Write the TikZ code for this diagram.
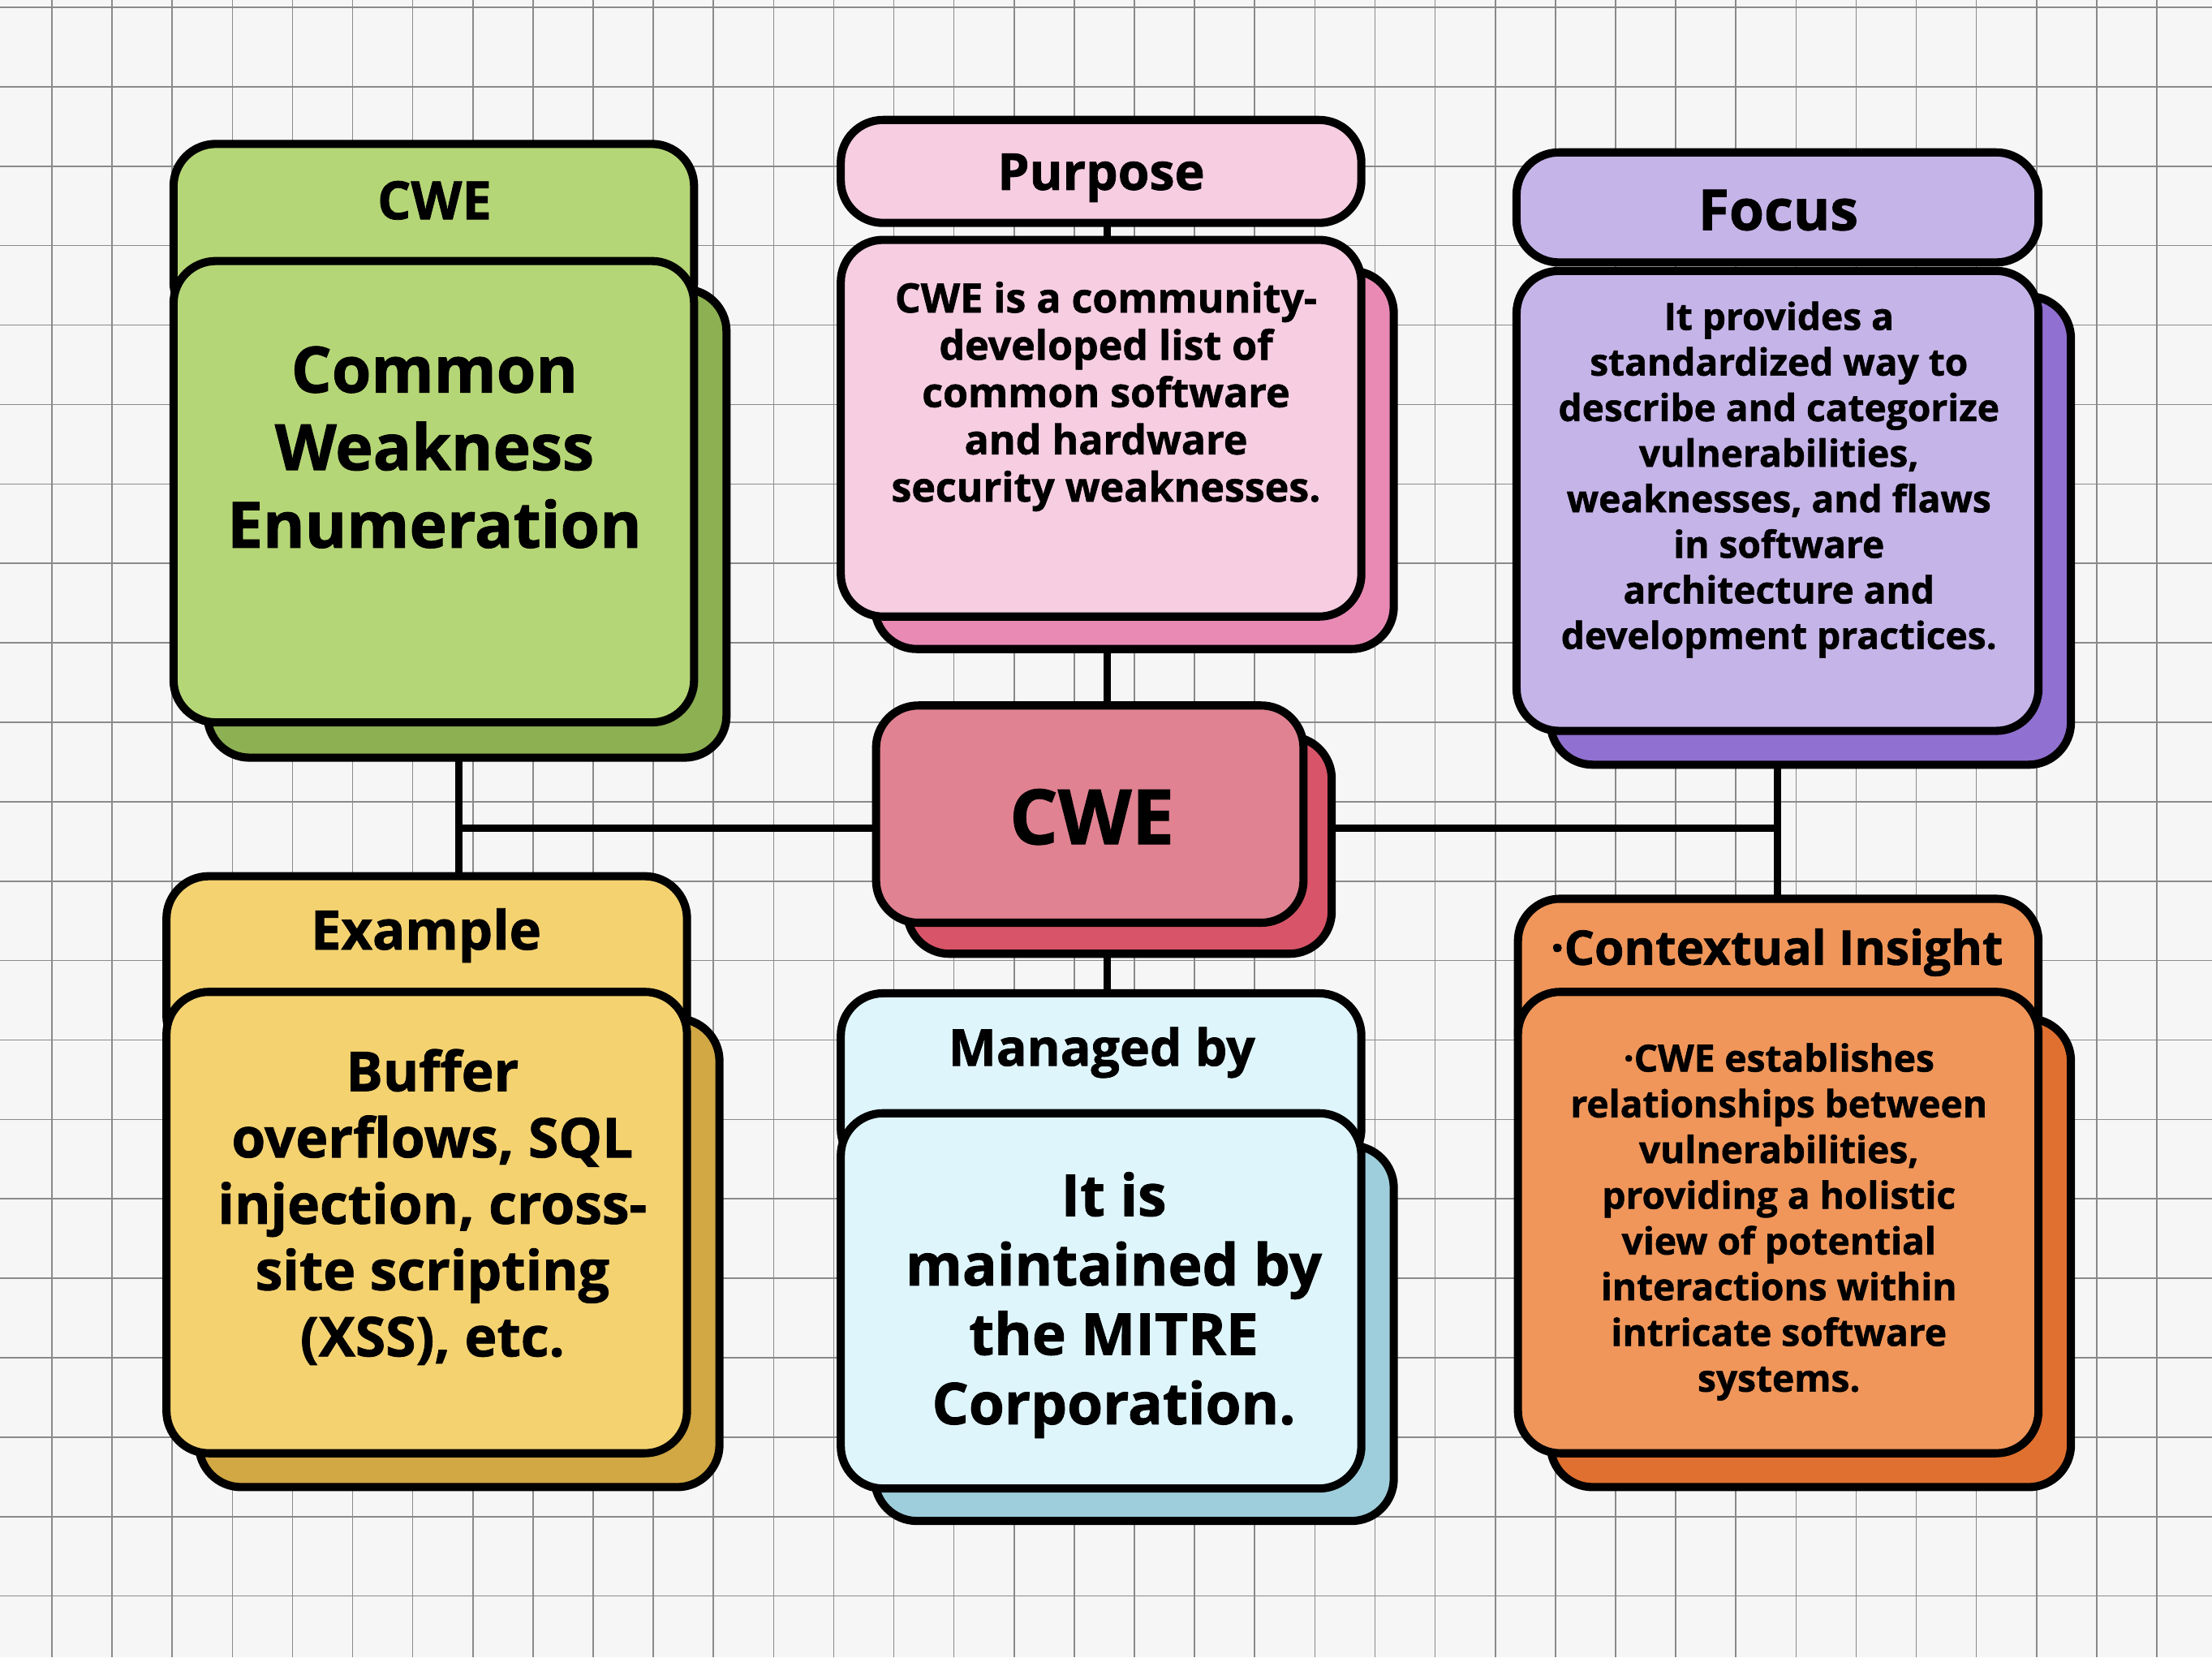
\documentclass[tikz,border=0pt]{standalone}
\usepackage{fontspec}
\setmainfont{Open Sans}[BoldFeatures={FakeBold=1.2}]
\pgfdeclarelayer{gridlayer}
\pgfdeclarelayer{connlayer}
\pgfsetlayers{gridlayer,connlayer,main}
\definecolor{bgpaper}{HTML}{F6F6F6}
\definecolor{gridc}{HTML}{8A8A8A}
\definecolor{gFill}{HTML}{B5D676}
\definecolor{gShade}{HTML}{8DB052}
\definecolor{pFill}{HTML}{F6CDE1}
\definecolor{pShade}{HTML}{E88AB4}
\definecolor{fFill}{HTML}{C5B4E8}
\definecolor{fShade}{HTML}{9070D0}
\definecolor{cFill}{HTML}{E08291}
\definecolor{cShade}{HTML}{D85468}
\definecolor{eFill}{HTML}{F4D270}
\definecolor{eShade}{HTML}{D2A844}
\definecolor{mFill}{HTML}{DEF5FC}
\definecolor{mShade}{HTML}{9ECEDC}
\definecolor{oFill}{HTML}{F0965A}
\definecolor{oShade}{HTML}{E07030}
\tikzset{
  card/.style={draw=black, line width=2.9pt, rounded corners=15pt, rectangle, inner sep=0pt},
  conn/.style={draw=black, line width=2.6pt},
  gridline/.style={draw=gridc, line width=0.45pt},
  txt/.style={align=center, inner sep=0pt, text=black, font=\bfseries}
}
\begin{document}
\begin{tikzpicture}[x=0.5pt, y=-0.5pt]
\useasboundingbox (0,0) rectangle (1568,1174.6);
\begin{pgfonlayer}{gridlayer}
  \fill[bgpaper] (0,0) rectangle (1568,1174.6);
  \foreach \i in {0,...,36} { \draw[gridline] ({36.8+42.63*\i},0) -- ({36.8+42.63*\i},1174.6); }
  \foreach \j in {-1,0,...,19} { \draw[gridline] (0,{61.5+56.3*\j}) -- (1568,{61.5+56.3*\j}); }
\end{pgfonlayer}

% Green
\node[card, fill=gFill, minimum width=184.5pt, minimum height=64pt] (gH) at (307.5,166) {};
\node[card, fill=gShade, minimum width=184pt, minimum height=166pt] (gS) at (331,371) {};
\node[card, fill=gFill, minimum width=184.5pt, minimum height=163.5pt] (gM) at (307.5,348.5) {};
\node[txt, font=\fontsize{18.7pt}{22pt}\selectfont\bfseries] (gHt) at (308,142) {CWE};
\node[txt, font=\fontsize{22.6pt}{27.5pt}\selectfont\bfseries] (gMt) at (308,317) {Common\\Weakness\\Enumeration};

% Purpose
\node[card, fill=pFill, minimum width=184.5pt, minimum height=36.5pt] (pH) at (780.5,121.5) {};
\node[card, fill=pShade, minimum width=184pt, minimum height=134pt] (pS) at (804,326) {};
\node[card, fill=pFill, minimum width=184.5pt, minimum height=133.5pt] (pM) at (780.5,303.5) {};
\node[txt, font=\fontsize{18pt}{20pt}\selectfont\bfseries] (pHt) at (780.5,126) {Purpose};
\node[txt, font=\fontsize{14.4pt}{16.75pt}\selectfont\bfseries] (pMt) at (784,281) {CWE is a community-\\developed list of\\common software\\and hardware\\security weaknesses.};

% Focus
\node[card, fill=fFill, minimum width=185pt, minimum height=39pt] (fH) at (1260,147) {};
\node[card, fill=fShade, minimum width=184.5pt, minimum height=166pt] (fS) at (1283.5,376) {};
\node[card, fill=fFill, minimum width=185pt, minimum height=163pt] (fM) at (1260,355) {};
\node[txt, font=\fontsize{20pt}{22pt}\selectfont\bfseries] (fHt) at (1260.5,149) {Focus};
\node[txt, font=\fontsize{13.25pt}{16.15pt}\selectfont\bfseries] (fMt) at (1261,340) {It provides a\\standardized way to\\describe and categorize\\vulnerabilities,\\weaknesses, and flaws\\in software\\architecture and\\development practices.};

% Center
\node[card, fill=cShade, minimum width=150.5pt, minimum height=77pt] (cS) at (793.5,599) {};
\node[card, fill=cFill, minimum width=151.5pt, minimum height=77pt] (cM) at (772.5,577) {};
\node[txt, font=\fontsize{27pt}{30pt}\selectfont\bfseries] (cMt) at (774,579) {CWE};

% Example
\node[card, fill=eFill, minimum width=184.5pt, minimum height=64.5pt] (eH) at (302.5,685.5) {};
\node[card, fill=eShade, minimum width=184.5pt, minimum height=166pt] (eS) at (325.5,888) {};
\node[card, fill=eFill, minimum width=184.5pt, minimum height=163.5pt] (eM) at (302.5,866.5) {};
\node[txt, font=\fontsize{19.2pt}{21pt}\selectfont\bfseries] (eHt) at (302,663) {Example};
\node[txt, font=\fontsize{19.45pt}{23.5pt}\selectfont\bfseries] (eMt) at (306.5,855.5) {Buffer\\overflows, SQL\\injection, cross-\\site scripting\\(XSS), etc.};

% Managed by
\node[card, fill=mFill, minimum width=184.5pt, minimum height=63pt] (mH) at (780.5,767) {};
\node[card, fill=mShade, minimum width=184pt, minimum height=133pt] (mS) at (804,945) {};
\node[card, fill=mFill, minimum width=184.5pt, minimum height=133pt] (mM) at (780.5,922) {};
\node[txt, font=\fontsize{18pt}{20pt}\selectfont\bfseries] (mHt) at (781,746) {Managed by};
\node[txt, font=\fontsize{20.45pt}{24.6pt}\selectfont\bfseries] (mMt) at (789.5,925) {It is\\maintained by\\the MITRE\\Corporation.};

% Contextual Insight
\node[card, fill=oFill, minimum width=184.5pt, minimum height=61.5pt] (oH) at (1260.5,698.5) {};
\node[card, fill=oShade, minimum width=184.5pt, minimum height=166pt] (oS) at (1283.5,888) {};
\node[card, fill=oFill, minimum width=184.5pt, minimum height=163.5pt] (oM) at (1260.5,866.5) {};
\node[txt, font=\fontsize{16.9pt}{18pt}\selectfont\bfseries] (oHt) at (1259.5,675) {·Contextual Insight};
\node[txt, font=\fontsize{13.25pt}{16.2pt}\selectfont\bfseries] (oMt) at (1261,866) {·CWE establishes\\relationships between\\vulnerabilities,\\providing a holistic\\view of potential\\interactions within\\intricate software\\systems.};

% Connectors
\coordinate (jl) at (325,587);
\coordinate (jr) at (1260,587);
\coordinate (jt) at (785,300);
\coordinate (jb) at (785,700);
\begin{pgfonlayer}{connlayer}
  \draw[conn] (gS.center -| jl) -- (eH.center -| jl);
  \draw[conn] (jl) -- (jl -| cM.center);
  \draw[conn] (jr -| cM.center) -- (jr);
  \draw[conn] (fS.center -| jr) -- (oH.center -| jr);
  \draw[conn] (pH.center -| jt) -- (cM.center -| jt);
  \draw[conn] (cM.center -| jb) -- (mH.center -| jb);
\end{pgfonlayer}
\end{tikzpicture}
\end{document}
